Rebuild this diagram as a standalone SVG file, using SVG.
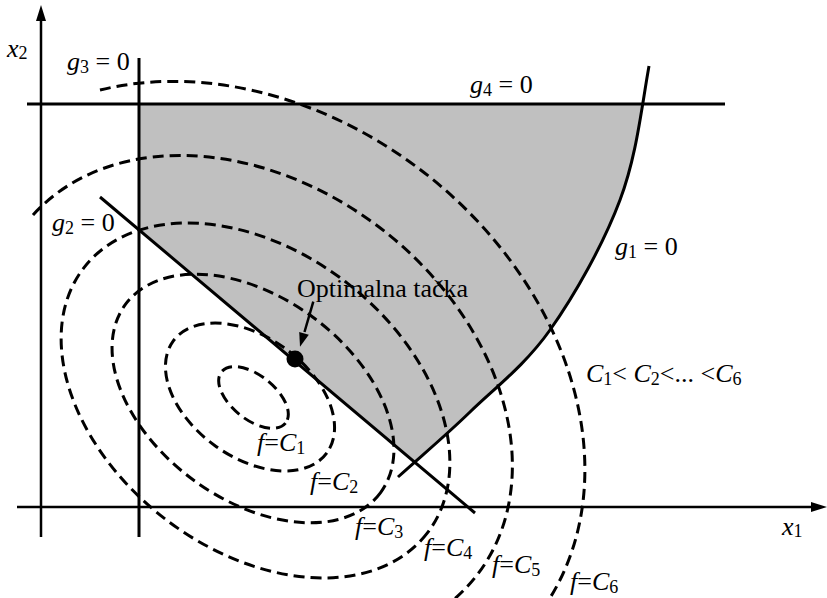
<svg xmlns="http://www.w3.org/2000/svg" width="827" height="598" viewBox="0 0 827 598">
<style>
.t{font-family:"Liberation Serif","Times New Roman",serif;font-size:26px;fill:#000;white-space:pre}
.i{font-style:italic}
.s{font-size:18px}
.d{fill:none;stroke:#000;stroke-width:3;stroke-dasharray:11 6}
.g{fill:none;stroke:#000;stroke-width:3}
.ax{fill:none;stroke:#000;stroke-width:2.5}
.hd{fill:#000;stroke:none}
</style>
<defs>
<clipPath id="below4"><rect x="0" y="104" width="827" height="494"/></clipPath>
</defs>
<rect x="0" y="0" width="827" height="598" fill="#fff"/>
<g id="feasible-region" clip-path="url(#below4)">
<path fill="#c0c0c0" d="M139,104 L660,104 L660,60 L649,66 C641,111 636.5,156 620,200 C603.5,244 575,294.7 550,330 C525,365.3 495.3,387.5 470,412 C450.52,430.87 432.58,446.35 414.4,462.16 L139,230 Z"/>
</g>
<g id="contours">
<ellipse id="c1" class="d" cx="253.5" cy="397.5" rx="41" ry="22" transform="rotate(38.7 253.5 397.5)"/>
<ellipse id="c2" class="d" cx="250" cy="397" rx="95" ry="60" transform="rotate(36 250 397)"/>
<ellipse id="c3" class="d" cx="253" cy="398.5" rx="158.5" ry="101" transform="rotate(36.4 253 398.5)"/>
<ellipse id="c4" class="d" cx="255.5" cy="400.5" rx="217" ry="149" transform="rotate(37.7 255.5 400.5)"/>
<path id="c5" class="d" d="M33,215 A286,215 38 1 1 447,605"/>
<path id="c6" class="d" d="M100,90 A361,282 38 0 1 542,610"/>
</g>
<g id="constraints">
<line id="g4" class="g" x1="27" y1="104" x2="725" y2="104"/>
<line id="g3" class="g" x1="139" y1="58" x2="139" y2="537"/>
<line id="g2" class="g" x1="100" y1="197" x2="475" y2="513"/>
<path id="g1" class="g" d="M649,66 C641,111 636.5,156 620,200 C603.5,244 575,294.7 550,330 C525,365.3 495.3,387.5 470,412 C444.7,436.5 422,455.3 398,477"/>
</g>
<g id="axes">
<line class="ax" x1="41" y1="537" x2="41" y2="18"/>
<polygon class="hd" points="41,5 36,21 46,21"/>
<line class="ax" x1="17" y1="507" x2="814" y2="507"/>
<polygon class="hd" points="827,507 811,502 811,512"/>
</g>
<g id="optimum">
<circle cx="295" cy="359" r="8.5" fill="#000"/>
<line x1="313.3" y1="301.7" x2="304.5" y2="332" stroke="#000" stroke-width="2.5"/>
<polygon class="hd" points="300,346.7 308.8,334.7 299.2,331.9"/>
</g>
<g id="labels">
<text class="t" x="7" y="57"><tspan class="i">x</tspan><tspan class="s" dy="2">2</tspan></text>
<text class="t" x="782" y="535"><tspan class="i">x</tspan><tspan class="s" dy="2">1</tspan></text>
<text class="t" x="67" y="70"><tspan class="i">g</tspan><tspan class="s" dy="3">3</tspan><tspan dy="-3"> = 0</tspan></text>
<text class="t" x="470" y="93"><tspan class="i">g</tspan><tspan class="s" dy="3">4</tspan><tspan dy="-3"> = 0</tspan></text>
<text class="t" x="52" y="231"><tspan class="i">g</tspan><tspan class="s" dy="3">2</tspan><tspan dy="-3"> = 0</tspan></text>
<text class="t" x="615" y="255"><tspan class="i">g</tspan><tspan class="s" dy="3">1</tspan><tspan dy="-3"> = 0</tspan></text>
<text class="t" x="297" y="297">Optimalna tačka</text>
<text class="t" x="586" y="382"><tspan class="i">C</tspan><tspan class="s" dy="3">1</tspan><tspan dy="-3">&lt; </tspan><tspan class="i">C</tspan><tspan class="s" dy="3">2</tspan><tspan dy="-3">&lt;... &lt;</tspan><tspan class="i">C</tspan><tspan class="s" dy="3">6</tspan></text>
<text class="t" x="257" y="451"><tspan class="i">f</tspan>=<tspan class="i">C</tspan><tspan class="s" dy="3">1</tspan></text>
<text class="t" x="310" y="490"><tspan class="i">f</tspan>=<tspan class="i">C</tspan><tspan class="s" dy="3">2</tspan></text>
<text class="t" x="355" y="535"><tspan class="i">f</tspan>=<tspan class="i">C</tspan><tspan class="s" dy="3">3</tspan></text>
<text class="t" x="424" y="556"><tspan class="i">f</tspan>=<tspan class="i">C</tspan><tspan class="s" dy="3">4</tspan></text>
<text class="t" x="492" y="573"><tspan class="i">f</tspan>=<tspan class="i">C</tspan><tspan class="s" dy="3">5</tspan></text>
<text class="t" x="570" y="590"><tspan class="i">f</tspan>=<tspan class="i">C</tspan><tspan class="s" dy="3">6</tspan></text>
</g>
</svg>
